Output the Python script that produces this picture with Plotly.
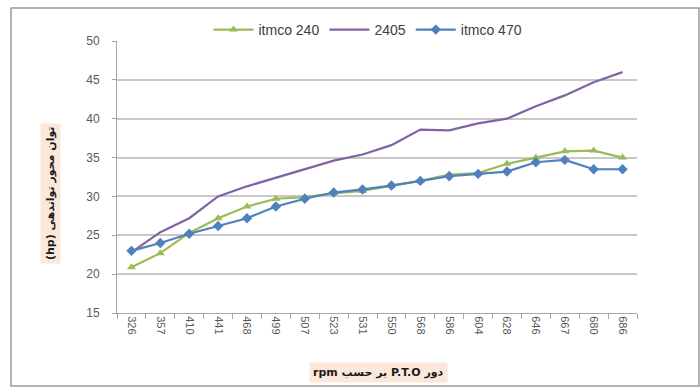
import plotly.graph_objects as go

# PTO speed (rpm) categories
rpm = ["326", "357", "410", "441", "468", "499", "507", "523", "531",
       "550", "568", "586", "604", "628", "646", "667", "680", "686"]

# PTO power (hp) per tractor
itmco_240 = [20.9, 22.7, 25.3, 27.2, 28.7, 29.7, 29.9, 30.4, 30.7,
             31.4, 32.0, 32.8, 33.0, 34.2, 35.0, 35.8, 35.9, 35.0]
t_2405 = [22.8, 25.4, 27.2, 30.0, 31.3, 32.4, 33.6, 34.6, 35.4,
          36.6, 38.6, 38.5, 39.4, 40.0, 41.6, 43.0, 44.7, 46.0]
itmco_470 = [23.0, 24.0, 25.2, 26.2, 27.2, 28.7, 29.7, 30.5, 30.9,
             31.4, 32.0, 32.6, 32.9, 33.2, 34.4, 34.7, 33.5, 33.5]

y_ticks = [15, 20, 25, 30, 35, 40, 45, 50]

GREEN = "#9BBB59"
PURPLE = "#8064A2"
BLUE = "#4F81BD"

fig = go.Figure()
fig.add_trace(go.Scatter(
    x=rpm, y=itmco_240, name="itmco 240", mode="lines+markers",
    line=dict(color=GREEN, width=2.2),
    marker=dict(symbol="triangle-up", size=8, color=GREEN)))
fig.add_trace(go.Scatter(
    x=rpm, y=t_2405, name="2405", mode="lines",
    line=dict(color=PURPLE, width=2.2)))
fig.add_trace(go.Scatter(
    x=rpm, y=itmco_470, name="itmco 470", mode="lines+markers",
    line=dict(color=BLUE, width=2.2),
    marker=dict(symbol="diamond", size=8, color=BLUE)))

L, R, T, B = 117, 63, 41, 75
W, H = 700, 388
pw, ph = W - L - R, H - T - B


def px_x(x):
    return (x - L) / pw


def px_y(y):
    return (H - B - y) / ph


fig.update_layout(
    width=W, height=H,
    margin=dict(l=L, r=R, t=T, b=B),
    paper_bgcolor="white", plot_bgcolor="white",
    font=dict(family="Liberation Sans", size=12, color="#595959"),
    showlegend=True,
    legend=dict(orientation="h", x=px_x(368), y=px_y(30),
                xanchor="center", yanchor="middle",
                font=dict(family="Liberation Sans", size=14, color="#404040"),
                bgcolor="rgba(0,0,0,0)", itemwidth=40, tracegroupgap=0),
    xaxis=dict(
        type="category", tickangle=90, tickson="boundaries",
        ticks="outside", ticklen=5, tickcolor="#A6A6A6",
        showline=True, linecolor="#A6A6A6", linewidth=1,
        showgrid=False, tickfont=dict(size=11, color="#595959"),
        range=[-0.5, len(rpm) - 0.5]),
    yaxis=dict(
        range=[15, 50], tickvals=y_ticks, ticks="outside", ticklen=4,
        tickcolor="#A6A6A6", showline=True, linecolor="#A6A6A6",
        showgrid=True, gridcolor="#C8C8C8", gridwidth=1.5,
        zeroline=False, tickfont=dict(size=12, color="#595959"),
        ticklabelstandoff=10),
    shapes=[dict(type="rect", xref="paper", yref="paper",
                 x0=px_x(11), x1=px_x(699), y0=px_y(386), y1=px_y(8),
                 line=dict(color="#9A9A9A", width=1.5),
                 fillcolor="rgba(0,0,0,0)", layer="below")],
    annotations=[
        dict(text="<b>rpm بر حسب P.T.O دور</b>", xref="paper", yref="paper",
             x=px_x(378), y=px_y(372), xanchor="center", yanchor="middle",
             showarrow=False, bgcolor="#FBE8DA", borderpad=3,
             font=dict(family="DejaVu Sans", size=11, color="#1a1a1a")),
        dict(text="<b>(hp) توان محور تواندهی</b>", xref="paper", yref="paper",
             x=px_x(50), y=px_y(194), xanchor="center", yanchor="middle",
             textangle=-90, showarrow=False, bgcolor="#FBE8DA", borderpad=3,
             font=dict(family="DejaVu Sans", size=11, color="#1a1a1a")),
    ],
)

fig.write_html("out.html")
